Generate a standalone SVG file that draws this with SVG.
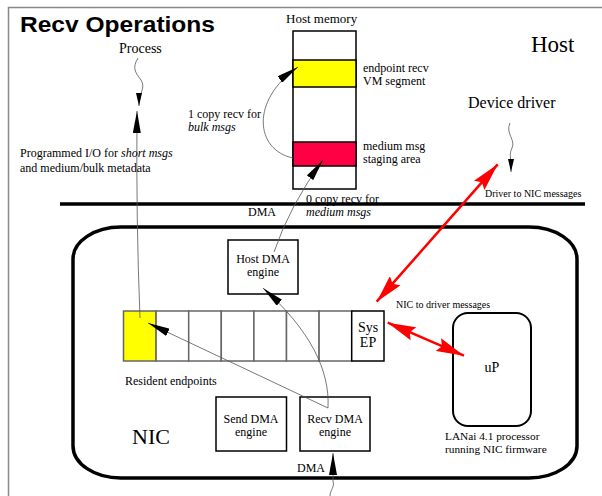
<svg xmlns="http://www.w3.org/2000/svg" width="602" height="496" viewBox="0 0 602 496">
<defs>
<style>
text{font-family:"Liberation Serif","Times New Roman",serif;fill:#000}
.s12{font-size:12px}
.s11{font-size:11.3px}
.s10{font-size:10px}
.mid{text-anchor:middle}
.box{fill:#fff;stroke:#000;stroke-width:1.5}
.cell{fill:#fff;stroke:#666;stroke-width:1.5}
.thin{fill:none;stroke:#555;stroke-width:0.8}
.red{fill:none;stroke:#f00;stroke-width:2.5}
.frame{fill:none;stroke:#888;stroke-width:1.5}
</style>
<marker id="ah" markerUnits="userSpaceOnUse" markerWidth="22" markerHeight="8" refX="22" refY="4" orient="auto"><path d="M0,0 L22,4 L0,8 z" fill="#000"/></marker>
<marker id="ahs" markerUnits="userSpaceOnUse" markerWidth="13" markerHeight="6" refX="13" refY="3" orient="auto"><path d="M0,0 L13,3 L0,6 z" fill="#000"/></marker>
<marker id="ahr" markerUnits="userSpaceOnUse" markerWidth="28" markerHeight="14" refX="28" refY="7" orient="auto-start-reverse"><path d="M0,0 L28,7 L0,14 L4,7 z" fill="#f00"/></marker>
</defs>
<rect width="602" height="496" fill="#fff"/>
<path class="frame" d="M8.5,496 L8.5,7.5 L602,7.5"/>
<text x="20" y="32" style="font-family:'Liberation Sans',Arial,sans-serif;font-weight:bold;font-size:22px" textLength="195" lengthAdjust="spacingAndGlyphs">Recv Operations</text>

<g id="host-label"><text x="531" y="52" style="font-size:23px">Host</text></g>
<g id="process"><text x="119" y="53" style="font-size:14px">Process</text></g>
<g id="device-driver"><text x="468" y="108" style="font-size:16px">Device driver</text></g>

<g id="host-memory">
<text x="286" y="23" style="font-size:13px">Host memory</text>
<rect class="box" x="293" y="31" width="63" height="158"/>
<rect x="293" y="60" width="63" height="27" fill="#ff0" stroke="#000" stroke-width="1.5"/>
<rect x="293" y="142" width="63" height="24" fill="#ff0044" stroke="#000" stroke-width="1.5"/>
<text class="s12" x="363" y="72">endpoint recv</text>
<text class="s12" x="363" y="85">VM segment</text>
<text class="s12" x="363" y="150">medium msg</text>
<text class="s12" x="363" y="163">staging area</text>
</g>

<g id="boundary">
<line x1="60" y1="204" x2="585" y2="204" stroke="#000" stroke-width="3.5"/>
</g>

<g id="nic">
<rect x="73" y="227" width="504" height="251" rx="48" ry="32" fill="none" stroke="#000" stroke-width="3.5"/>
<text x="132" y="444" style="font-size:22px">NIC</text>
</g>

<g id="host-dma-engine">
<rect class="box" x="228" y="240" width="70" height="54"/>
<text class="s12 mid" x="263" y="263">Host DMA</text>
<text class="s12 mid" x="263" y="276">engine</text>
</g>

<g id="resident-endpoints">
<rect x="123.5" y="311" width="32.6" height="50" fill="#ff0" stroke="#666" stroke-width="1.5"/>
<rect class="cell" x="156.1" y="311" width="32.6" height="50"/>
<rect class="cell" x="188.7" y="311" width="32.6" height="50"/>
<rect class="cell" x="221.3" y="311" width="32.6" height="50"/>
<rect class="cell" x="253.9" y="311" width="32.6" height="50"/>
<rect class="cell" x="286.5" y="311" width="32.6" height="50"/>
<rect class="cell" x="319.1" y="311" width="32.6" height="50"/>
<text class="s12" x="125" y="385">Resident endpoints</text>
</g>

<g id="sys-ep">
<rect class="box" x="351.7" y="311" width="32.3" height="50"/>
<text class="mid" x="368" y="332" style="font-size:14px">Sys</text>
<text class="mid" x="368" y="347" style="font-size:14px">EP</text>
</g>

<g id="send-dma-engine">
<rect class="box" x="216" y="397" width="70.5" height="54"/>
<text class="s12 mid" x="251" y="423">Send DMA</text>
<text class="s12 mid" x="251" y="436">engine</text>
</g>

<g id="recv-dma-engine">
<rect class="box" x="300" y="397" width="70" height="54"/>
<text class="s12 mid" x="335" y="423">Recv DMA</text>
<text class="s12 mid" x="335" y="436">engine</text>
</g>

<g id="up">
<rect x="453" y="313" width="78" height="113" rx="15" ry="15" fill="#fff" stroke="#000" stroke-width="2"/>
<text class="mid" x="492" y="372" style="font-size:14px">uP</text>
<text class="s11" x="445" y="440">LANai 4.1 processor</text>
<text class="s11" x="445" y="453">running NIC firmware</text>
</g>

<g id="connectors">
<path class="thin" d="M140,318 Q136,220 137,111" marker-end="url(#ah)"/>
<path class="thin" d="M138,58 C132,68 135,72 141,80 C146,88 139,92 139,106" marker-end="url(#ahs)"/>
<path class="thin" d="M293,158 C255,150 250,100 298,67" marker-end="url(#ah)"/>
<path class="thin" d="M274,252 Q290,205 323,160" marker-end="url(#ah)"/>
<path class="thin" d="M328,408 C330,370 310,330 263,288" marker-end="url(#ah)"/>
<path class="thin" d="M328,408 L148,323" marker-end="url(#ah)"/>
<path class="thin" d="M330,496 C330,490 335,487 333,481 L333,453" marker-end="url(#ah)"/>
<path class="thin" d="M510,123 C505,133 516,140 512,148 C509,154 511,157 511,172" marker-end="url(#ahs)"/>
<path class="red" d="M376.7,301.7 L497.7,164.3" marker-start="url(#ahr)" marker-end="url(#ahr)"/>
<path class="red" d="M387.7,322.7 L464,355.7" marker-start="url(#ahr)" marker-end="url(#ahr)"/>
</g>

<g id="labels">
<text class="s12" x="20" y="157">Programmed I/O for <tspan font-style="italic">short msgs</tspan></text>
<text class="s12" x="20" y="172">and medium/bulk metadata</text>
<text class="s12" x="188" y="118">1 copy recv for</text>
<text class="s12" x="188" y="131" font-style="italic">bulk msgs</text>
<text class="s12" x="306" y="203">0 copy recv for</text>
<text class="s12" x="306" y="216" font-style="italic">medium msgs</text>
<text class="s12" x="248" y="216">DMA</text>
<text class="s12" x="297" y="472">DMA</text>
<text class="s10" x="485" y="197">Driver to NIC messages</text>
<text class="s10" x="396" y="308">NIC to driver messages</text>
</g>
</svg>
